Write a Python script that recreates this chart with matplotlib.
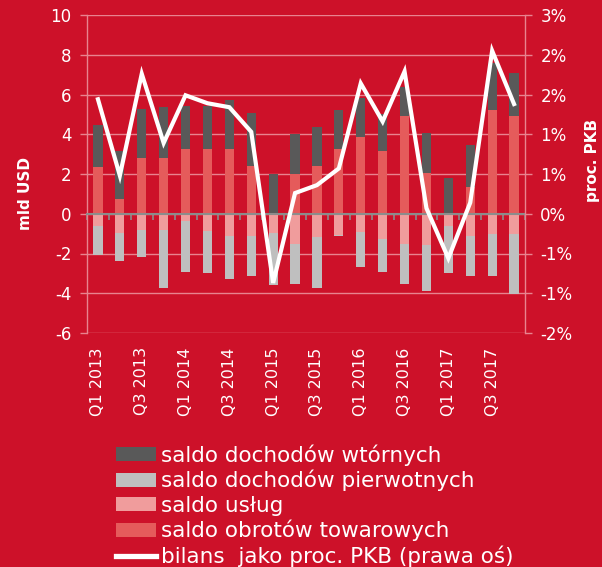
import matplotlib
matplotlib.use("Agg")
import matplotlib.pyplot as plt
import matplotlib.transforms as mtransforms
from matplotlib.patches import Patch
from matplotlib.lines import Line2D
import numpy as np

# ---------------- data ----------------
quarters = ["Q1 2013", "Q2 2013", "Q3 2013", "Q4 2013",
            "Q1 2014", "Q2 2014", "Q3 2014", "Q4 2014",
            "Q1 2015", "Q2 2015", "Q3 2015", "Q4 2015",
            "Q1 2016", "Q2 2016", "Q3 2016", "Q4 2016",
            "Q1 2017", "Q2 2017", "Q3 2017", "Q4 2017"]

goods = [2.35, 0.74, 2.80, 2.80, 3.26, 3.26, 3.26, 2.42, 0.00, 1.98,
         2.42, 3.26, 3.86, 3.17, 4.92, 2.05, 0.00, 1.36, 5.22, 4.92]
services = [-0.60, -0.97, -0.82, -0.82, -0.37, -0.89, -1.11, -1.11, -0.97, -1.51,
            -1.19, -1.05, -0.91, -1.28, -1.51, -1.58, -0.60, -1.11, -1.04, -1.04]
primary = [-1.50, -1.43, -1.34, -2.92, -2.55, -2.11, -2.18, -2.03, -2.62, -2.01,
           -2.53, -0.05, -1.77, -1.64, -2.01, -2.31, -2.40, -2.03, -2.10, -3.00]
secondary = [2.10, 2.43, 2.49, 2.55, 2.18, 2.16, 2.46, 2.63, 1.98, 2.03,
             1.96, 1.96, 1.98, 1.83, 1.48, 2.03, 1.81, 2.11, 2.35, 2.18]
gdp_pct = [1.44, 0.48, 1.76, 0.89, 1.49, 1.39, 1.34, 1.03, -0.87, 0.26,
           0.36, 0.57, 1.64, 1.16, 1.79, 0.07, -0.56, 0.14, 2.05, 1.38]

left_ticks = [-6, -4, -2, 0, 2, 4, 6, 8, 10]
right_ticks = [-1.5, -1.0, -0.5, 0.0, 0.5, 1.0, 1.5, 2.0, 2.5]
right_tick_labels = ["-2%", "-1%", "-1%", "0%", "1%", "1%", "2%", "2%", "3%"]

series_names = ["saldo obrotów towarowych", "saldo usług",
                "saldo dochodów pierwotnych", "saldo dochodów wtórnych"]
line_name = "bilans  jako proc. PKB (prawa oś)"

# ---------------- style ----------------
BG = "#CD1129"
C_GOODS = "#E55B5B"
C_SERV = "#F09C9C"
C_PRIM = "#BFBFBF"
C_SEC = "#595959"
GRID = "#E8838F"
ZERO = "#8C8C8C"
FONT = "DejaVu Sans"

plt.rcParams["font.family"] = [FONT]

W, H = 602, 567
fig = plt.figure(figsize=(W / 100, H / 100), dpi=100, facecolor=BG)
L, R, T, B = 87, 525, 15, 333
ax = fig.add_axes([L / W, 1 - B / H, (R - L) / W, (B - T) / H])
ax.set_facecolor(BG)

x = np.arange(len(quarters))
bw = 0.42

stack = [goods, services, primary, secondary]
colors = [C_GOODS, C_SERV, C_PRIM, C_SEC]
pos_base = np.zeros(len(x))
neg_base = np.zeros(len(x))
for vals, col in zip(stack, colors):
    v = np.array(vals, dtype=float)
    bottoms = np.where(v >= 0, pos_base, neg_base)
    ax.bar(x, v, bottom=bottoms, width=bw, color=col, zorder=3, linewidth=0)
    pos_base = pos_base + np.where(v >= 0, v, 0)
    neg_base = neg_base + np.where(v < 0, v, 0)

ax.set_xlim(-0.5, len(x) - 0.5)
ax.set_ylim(-6, 10)
ax.set_yticks(left_ticks)
ax.set_yticklabels([str(t) for t in left_ticks])
ax.yaxis.grid(True, color=GRID, linewidth=1.0, zorder=0)
ax.set_axisbelow(True)

# spines
for s in ["top", "right"]:
    ax.spines[s].set_visible(False)
ax.spines["left"].set_color(GRID)
ax.spines["left"].set_linewidth(1.0)
ax.spines["bottom"].set_position(("data", 0))
ax.spines["bottom"].set_color(ZERO)
ax.spines["bottom"].set_linewidth(1.5)
ax.spines["bottom"].set_zorder(4)
ax.set_xticks(np.arange(len(x) + 1) - 0.5)
ax.tick_params(axis="x", which="major", direction="out", length=4,
               color=ZERO, width=1.2, labelbottom=False)
ax.tick_params(axis="y", direction="out", length=5, color=GRID, width=1.0,
               labelcolor="white", labelsize=12, pad=6)

# quarter labels (every other)
trans = mtransforms.blended_transform_factory(ax.transData, ax.transAxes)
for i in range(0, len(quarters), 2):
    ax.text(x[i], -0.045, quarters[i], transform=trans, rotation=90,
            ha="center", va="top", color="white", fontsize=11.5)

# right axis
ax2 = ax.twinx()
ax2.set_ylim(-1.5, 2.5)
ax2.set_yticks(right_ticks)
ax2.set_yticklabels(right_tick_labels)
for s in ["top", "left", "bottom"]:
    ax2.spines[s].set_visible(False)
ax2.spines["right"].set_color(GRID)
ax2.spines["right"].set_linewidth(1.0)
ax2.tick_params(axis="y", direction="out", length=5, color=GRID, width=1.0,
                labelcolor="white", labelsize=12, pad=6)
ax2.plot(x, gdp_pct, color="white", linewidth=3.0, zorder=5,
         solid_joinstyle="miter")

# axis titles
fig.text(26 / W, 1 - 194 / H, "mld USD", rotation=90, ha="center", va="center",
         color="white", fontsize=11, fontweight="bold")
fig.text(592 / W, 1 - 160 / H, "proc. PKB", rotation=90, ha="center", va="center",
         color="white", fontsize=11, fontweight="bold")

# legend
handles = [Patch(facecolor=C_SEC, edgecolor="none"),
           Patch(facecolor=C_PRIM, edgecolor="none"),
           Patch(facecolor=C_SERV, edgecolor="none"),
           Patch(facecolor=C_GOODS, edgecolor="none"),
           Line2D([0], [0], color="white", linewidth=3.8)]
labels = [series_names[3], series_names[2], series_names[1], series_names[0], line_name]
leg = fig.legend(handles, labels, loc="upper left",
                 bbox_to_anchor=(116 / W, 1 - 444 / H),
                 frameon=False, fontsize=15.5, handlelength=1.86,
                 handleheight=0.6, handletextpad=0.22, labelspacing=0.2,
                 borderaxespad=0, borderpad=0)
for t in leg.get_texts():
    t.set_color("white")

fig.savefig("out.png", dpi=100, facecolor=BG)
